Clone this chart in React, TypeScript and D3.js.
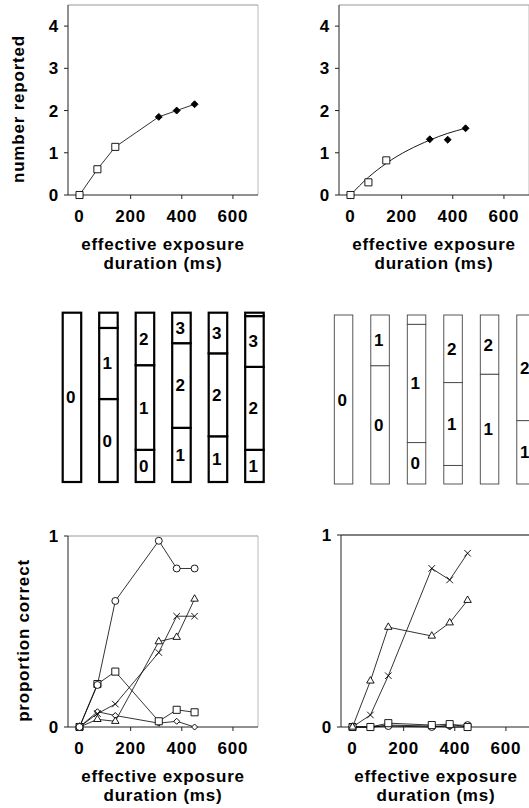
import React from 'react';
import * as d3 from 'd3';

// exposure durations (ms) shared by every panel
const durations = [0, 70, 140, 310, 380, 450];
const xTicks = [0, 200, 400, 600];

// top row: mean number of items reported
const reportedLeft = [0, 0.61, 1.14, 1.85, 2.0, 2.15];
const reportedRight = [0, 0.3, 0.82, 1.32, 1.31, 1.58];
const fitRight = [0, 0.42, 0.75, 1.3, 1.46, 1.58];
const reportedShapes = ['square', 'square', 'square', 'diamondFilled', 'diamondFilled', 'diamondFilled'];
const reportedTicks = [0, 1, 2, 3, 4];

// middle row: proportion of trials with 0,1,2,3,4 items reported
const distLeft = [
  [1, 0, 0, 0, 0],
  [0.49, 0.42, 0.09, 0, 0],
  [0.19, 0.5, 0.31, 0, 0],
  [0, 0.32, 0.5, 0.18, 0],
  [0, 0.27, 0.49, 0.24, 0],
  [0, 0.19, 0.49, 0.3, 0.02],
];
const distRight = [
  [1, 0, 0, 0, 0],
  [0.7, 0.3, 0, 0, 0],
  [0.245, 0.7, 0.055, 0, 0],
  [0.11, 0.49, 0.4, 0, 0],
  [0, 0.65, 0.35, 0, 0],
  [0, 0.375, 0.625, 0, 0],
];

// bottom row: proportion correct, one series per item position
const circleLeft = [0, 0.22, 0.66, 0.975, 0.83, 0.83];
const squareLeft = [0, 0.225, 0.29, 0.03, 0.09, 0.077];
const triangleLeft = [0, 0.04, 0.03, 0.447, 0.47, 0.67];
const crossLeft = [0, 0.07, 0.12, 0.39, 0.58, 0.58];
const diamondLeft = [0, 0.08, 0.06, 0.02, 0.03, 0];

const circleRight = [0, 0, 0.005, 0, 0.01, 0.01];
const squareRight = [0, 0, 0.02, 0.01, 0.015, 0];
const triangleRight = [0, 0.24, 0.52, 0.474, 0.543, 0.66];
const crossRight = [0, 0.0625, 0.267, 0.826, 0.766, 0.905];
const diamondRight = [0, 0, 0.01, 0.005, 0, 0];
const correctTicks = [0, 1];

const panelW = 190;
const xDomain: [number, number] = [-45, 698];

const font = {
  fontFamily: '"Liberation Sans", Arial, Helvetica, sans-serif',
  fontWeight: 700,
  fontSize: 17,
  letterSpacing: 0.8,
};

const timesSym = (d3 as any).symbolTimes || (d3 as any).symbolX || d3.symbolCross;

function Marker({ shape, cx, cy }: { shape: string; cx: number; cy: number }) {
  let d = '';
  let rot = 0;
  let fill = '#fff';
  let stroke = '#000';
  if (shape === 'square') d = d3.symbol(d3.symbolSquare, 50)() as string;
  else if (shape === 'circle') d = d3.symbol(d3.symbolCircle, 38)() as string;
  else if (shape === 'triangle') d = d3.symbol(d3.symbolTriangle, 24)() as string;
  else if (shape === 'cross') { d = d3.symbol(timesSym, 30)() as string; fill = 'none'; }
  else if (shape === 'diamond') { d = d3.symbol(d3.symbolSquare, 18)() as string; rot = 45; }
  else if (shape === 'diamondFilled') { d = d3.symbol(d3.symbolSquare, 24)() as string; rot = 45; fill = '#000'; }
  return (
    <path d={d} transform={`translate(${cx},${cy}) rotate(${rot})`} fill={fill} stroke={stroke} strokeWidth={0.9} />
  );
}

type Series = { values: number[]; shapes: string[]; connect?: boolean };

function LinePanel(props: {
  left: number; top: number; bottom: number; yMax: number; yTicks: number[];
  series: Series[]; fit?: number[]; yTitle?: string; titleX?: number; frameTop?: string;
}) {
  const { left, top, bottom, yMax, yTicks, series, fit, yTitle, titleX, frameTop } = props;
  const x = d3.scaleLinear().domain(xDomain).range([left, left + panelW]);
  const y = d3.scaleLinear().domain([0, yMax]).range([bottom, top]);
  const line = d3.line<number>().x((_, i) => x(durations[i])).y((v) => y(v));
  const smooth = d3.line<number>().x((_, i) => x(durations[i])).y((v) => y(v)).curve(d3.curveMonotoneX);
  const cx = left + panelW / 2;
  const ty = (top + bottom) / 2 + 9;
  return (
    <g>
      {/* frame */}
      <line x1={left} x2={left + panelW} y1={top} y2={top} stroke={frameTop || '#999'} strokeWidth={1} />
      <line x1={left + panelW} x2={left + panelW} y1={top} y2={bottom} stroke="#aaa" strokeWidth={0.8} />
      <line x1={left} x2={left} y1={top} y2={bottom} stroke="#222" strokeWidth={1} />
      <line x1={left} x2={left + panelW} y1={bottom} y2={bottom} stroke="#222" strokeWidth={1} />
      {/* axes */}
      {xTicks.map((t) => (
        <g key={'x' + t}>
          <line x1={x(t)} x2={x(t)} y1={bottom} y2={bottom + 4} stroke="#222" />
          <text x={x(t)} y={bottom + 27} textAnchor="middle" style={font}>{t}</text>
        </g>
      ))}
      {yTicks.map((t) => (
        <g key={'y' + t}>
          <line x1={left - 4} x2={left} y1={y(t)} y2={y(t)} stroke="#222" />
          <text x={left - 9} y={y(t)} dy="0.36em" textAnchor="end" style={font}>{t}</text>
        </g>
      ))}
      <text x={cx} y={bottom + 55} textAnchor="middle" style={font}>effective exposure</text>
      <text x={cx} y={bottom + 74} textAnchor="middle" style={font}>duration (ms)</text>
      {yTitle && (
        <text transform={`translate(${titleX},${ty}) rotate(-90)`} textAnchor="middle" style={font}>{yTitle}</text>
      )}
      {/* data */}
      {fit && <path d={smooth(fit) as string} fill="none" stroke="#000" strokeWidth={0.9} />}
      {series.map((s, k) =>
        s.connect !== false ? (
          <path key={'l' + k} d={line(s.values) as string} fill="none" stroke="#000" strokeWidth={0.8} />
        ) : null
      )}
      {series.map((s, k) =>
        s.values.map((v, i) => (
          <Marker key={`m${k}-${i}`} shape={s.shapes[i]} cx={x(durations[i])} cy={y(v)} />
        ))
      )}
    </g>
  );
}

function BarPanel(props: { x0: number; x1: number; top: number; bottom: number; dist: number[][]; thick: boolean }) {
  const { x0, x1, top, bottom, dist, thick } = props;
  const xb = d3.scaleBand<number>().domain(durations).range([x0, x1]).paddingInner(0.493).paddingOuter(0);
  const yb = d3.scaleLinear().domain([0, 1]).range([bottom, top]);
  const bw = xb.bandwidth();
  const sw = thick ? 2.2 : 0.9;
  const col = thick ? '#000' : '#444';
  return (
    <g>
      {dist.map((row, b) => {
        const ends = Array.from(d3.cumsum(row));
        const bx = xb(durations[b]) as number;
        return (
          <g key={b}>
            {row.map((p, k) => {
              if (p <= 0) return null;
              const lo = ends[k] - p;
              const yTop = yb(ends[k]);
              const yBot = yb(lo);
              const h = yBot - yTop;
              return (
                <g key={k}>
                  <rect x={bx} y={yTop} width={bw} height={h} fill="#fff" stroke={col} strokeWidth={sw} />
                  {h >= 20 && (
                    <text x={bx + bw * 0.45} y={(yTop + yBot) / 2 + 6} textAnchor="middle" style={font}>{k}</text>
                  )}
                </g>
              );
            })}
          </g>
        );
      })}
    </g>
  );
}

export default function App() {
  const topShapes = reportedShapes;
  const all = (s: string) => durations.map(() => s);
  return (
    <svg width={529} height={808} style={{ position: 'absolute', left: 0, top: 0, background: '#fff' }}>
      <rect width={529} height={808} fill="#fff" />
      <LinePanel
        left={68} top={5} bottom={195} yMax={4.5} yTicks={reportedTicks}
        series={[{ values: reportedLeft, shapes: topShapes }]}
        yTitle="number reported" titleX={24}
      />
      <LinePanel
        left={339} top={5} bottom={195} yMax={4.5} yTicks={reportedTicks}
        series={[{ values: reportedRight, shapes: topShapes, connect: false }]}
        fit={fitRight}
      />
      <BarPanel x0={62.7} x1={263.7} top={312.7} bottom={482} dist={distLeft} thick={true} />
      <BarPanel x0={334.3} x1={535.3} top={315} bottom={484} dist={distRight} thick={false} />
      <LinePanel
        left={68} top={536} bottom={727} yMax={1} yTicks={correctTicks}
        series={[
          { values: diamondLeft, shapes: all('diamond') },
          { values: squareLeft, shapes: all('square') },
          { values: crossLeft, shapes: all('cross') },
          { values: triangleLeft, shapes: all('triangle') },
          { values: circleLeft, shapes: all('circle') },
        ]}
        yTitle="proportion correct" titleX={29}
      />
      <LinePanel
        left={341} top={535} bottom={727} yMax={1} yTicks={correctTicks} frameTop="#000"
        series={[
          { values: diamondRight, shapes: all('diamond') },
          { values: circleRight, shapes: all('circle') },
          { values: squareRight, shapes: all('square') },
          { values: crossRight, shapes: all('cross') },
          { values: triangleRight, shapes: all('triangle') },
        ]}
      />
    </svg>
  );
}
